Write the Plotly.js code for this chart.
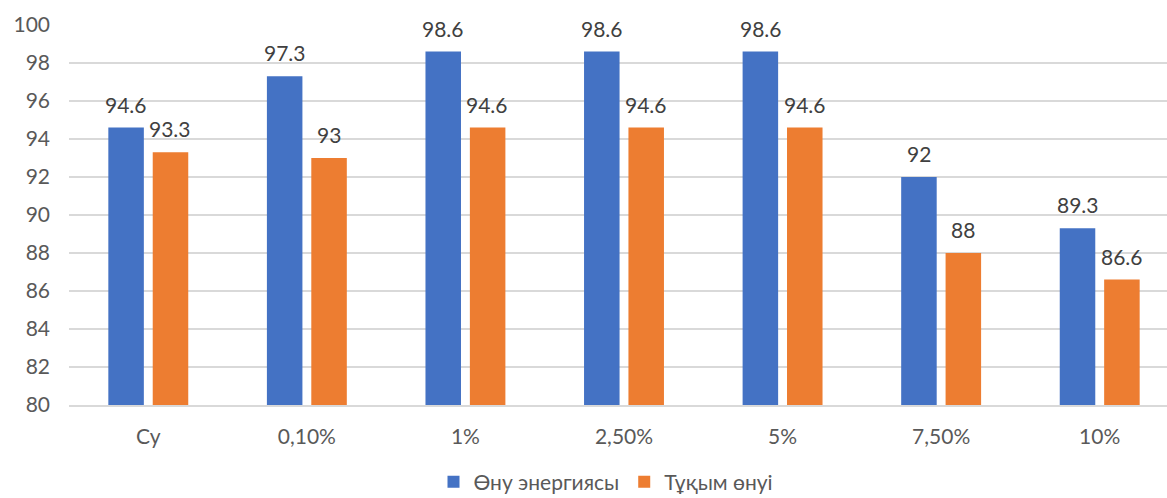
<!DOCTYPE html>
<html>
<head>
<meta charset="utf-8">
<script src="https://cdn.plot.ly/plotly-3.0.1.min.js"></script>
<style>html,body{margin:0;padding:0;background:#fff;overflow:hidden;}#chart{width:1190px;height:498px;}</style>
</head>
<body>
<div id="chart"></div>
<script>
const categories = ["Су", "0,10%", "1%", "2,50%", "5%", "7,50%", "10%"];
const seriesNames = ["Өну энергиясы", "Тұқым өнуі"];
const energy = [94.6, 97.3, 98.6, 98.6, 98.6, 92, 89.3];
const germination = [93.3, 93, 94.6, 94.6, 94.6, 88, 86.6];
const yTicks = [80, 82, 84, 86, 88, 90, 92, 94, 96, 98, 100];

const font = "Lato, 'Open Sans', sans-serif";
const colors = ["#4472c4", "#ed7d31"];
const series = [energy, germination];

const data = series.map((vals, i) => ({
  type: "bar", name: seriesNames[i], x: categories, y: vals,
  marker: {color: colors[i], line: {width: 0}},
  hoverinfo: "skip"
}));

const annotations = [];
series.forEach((vals, i) => {
  vals.forEach((v, j) => {
    annotations.push({
      x: categories[j], y: v, xref: "x", yref: "y",
      text: String(v), showarrow: false,
      xanchor: "center", yanchor: "bottom",
      xshift: i === 0 ? -22 : 22, yshift: 9,
      font: {family: font, size: 21, color: "#404040"}
    });
  });
});

const W = 1190;
const ML = 69, MR = 11;
const layout = {
  width: W, height: 498,
  margin: {l: ML, r: MR, t: 25, b: 93},
  paper_bgcolor: "#fff", plot_bgcolor: "#fff",
  barmode: "group", bargap: 0.44, bargroupgap: 0.2,
  font: {family: font, color: "#595959", size: 21},
  xaxis: {type: "category", tickfont: {size: 21, color: "#595959"}, showline: true, linecolor: "#d9d9d9", linewidth: 2, ticks: "", showgrid: false, ticklabelstandoff: 12},
  yaxis: {range: [80, 100], tickvals: yTicks, ticktext: yTicks.map(String), tickfont: {size: 21, color: "#595959"}, gridcolor: "#d9d9d9", gridwidth: 2, zeroline: false, showline: false, ticks: "", ticklabelstandoff: 18},
  legend: {orientation: "h", x: (606 - ML) / (W - ML - MR), xref: "paper", xanchor: "center", yref: "container", y: 16 / 498, yanchor: "middle", font: {size: 21, color: "#595959"}, traceorder: "normal", itemwidth: 30},
  annotations: annotations,
  showlegend: true
};
Plotly.newPlot("chart", data, layout, {staticPlot: true});
</script>
</body>
</html>
